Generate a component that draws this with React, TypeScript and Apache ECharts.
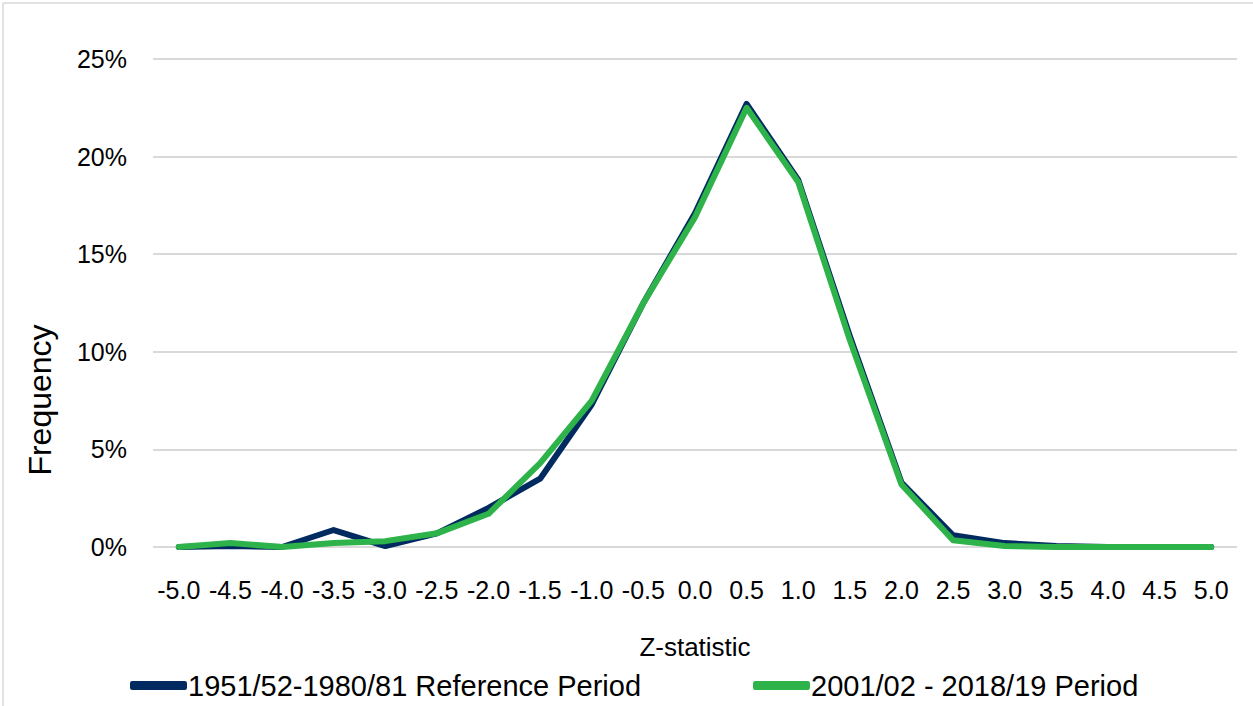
import React, { useEffect, useRef } from "react";
import * as echarts from "echarts";

const categories = ["-5.0","-4.5","-4.0","-3.5","-3.0","-2.5","-2.0","-1.5","-1.0","-0.5","0.0","0.5","1.0","1.5","2.0","2.5","3.0","3.5","4.0","4.5","5.0"];
const referencePeriod = [0, 0.05, 0, 0.87, 0.05, 0.7, 2.0, 3.5, 7.3, 12.5, 17.1, 22.7, 18.8, 10.8, 3.3, 0.6, 0.2, 0.05, 0, 0, 0];
const recentPeriod = [0, 0.2, 0, 0.2, 0.3, 0.7, 1.7, 4.3, 7.5, 12.5, 16.9, 22.5, 18.7, 10.6, 3.2, 0.35, 0.05, 0, 0, 0, 0];
const yTicks = [0, 5, 10, 15, 20, 25];
const seriesNames = ["1951/52-1980/81 Reference Period", "2001/02 - 2018/19 Period"];

const FONT = "'Liberation Sans', Arial, sans-serif";

export default function App() {
  const ref = useRef<HTMLDivElement>(null);
  useEffect(() => {
    const chart = echarts.init(ref.current!, null, { renderer: "svg" });
    const legendText = { fontFamily: FONT, fontSize: 29, color: "#000", padding: [0, 0, 0, -4] };
    chart.setOption({
      animation: false,
      backgroundColor: "#ffffff",
      textStyle: { fontFamily: FONT },
      graphic: [
        { type: "line", shape: { x1: 3, y1: 3, x2: 1253, y2: 3 }, style: { stroke: "#d9d9d9", lineWidth: 1.5 } },
        { type: "line", shape: { x1: 3, y1: 3, x2: 3, y2: 706 }, style: { stroke: "#d9d9d9", lineWidth: 1.5 } },
        {
          type: "text",
          x: 40,
          y: 400,
          rotation: Math.PI / 2,
          style: { text: "Frequency", fontFamily: FONT, fontSize: 32, fill: "#000", align: "center", verticalAlign: "middle" },
        },
      ],
      grid: { left: 153, right: 16, top: 59, bottom: 159, containLabel: false },
      legend: [
        {
          left: 125,
          top: 666,
          icon: "roundRect",
          itemWidth: 57,
          itemHeight: 9,
          textStyle: legendText,
          data: [seriesNames[0]],
        },
        {
          left: 748,
          top: 666,
          icon: "roundRect",
          itemWidth: 57,
          itemHeight: 9,
          textStyle: legendText,
          data: [seriesNames[1]],
        },
      ],
      xAxis: {
        type: "category",
        data: categories,
        boundaryGap: true,
        name: "Z-statistic",
        nameLocation: "middle",
        nameGap: 87,
        nameTextStyle: { fontFamily: FONT, fontSize: 26, color: "#000" },
        axisLine: { show: false },
        axisTick: { show: false },
        axisLabel: { fontFamily: FONT, fontSize: 25, color: "#000", margin: 30, interval: 0 },
      },
      yAxis: {
        type: "value",
        min: 0,
        max: 25,
        interval: 5,
        axisLine: { show: false },
        axisTick: { show: false },
        axisLabel: {
          fontFamily: FONT,
          fontSize: 25,
          color: "#000",
          margin: 26,
          formatter: (v: number) => (yTicks.includes(v) ? v + "%" : ""),
        },
        splitLine: { lineStyle: { color: "#d9d9d9", width: 2 } },
      },
      series: [
        {
          name: seriesNames[0],
          type: "line",
          data: referencePeriod,
          symbol: "none",
          color: "#002a60",
          lineStyle: { color: "#002a60", width: 6, cap: "round", join: "round" },
        },
        {
          name: seriesNames[1],
          type: "line",
          data: recentPeriod,
          symbol: "none",
          color: "#2db34a",
          lineStyle: { color: "#2db34a", width: 6, cap: "round", join: "round" },
        },
      ],
    });
    return () => chart.dispose();
  }, []);
  return <div ref={ref} style={{ position: "fixed", left: 0, top: 0, width: 1253, height: 706 }} />;
}
